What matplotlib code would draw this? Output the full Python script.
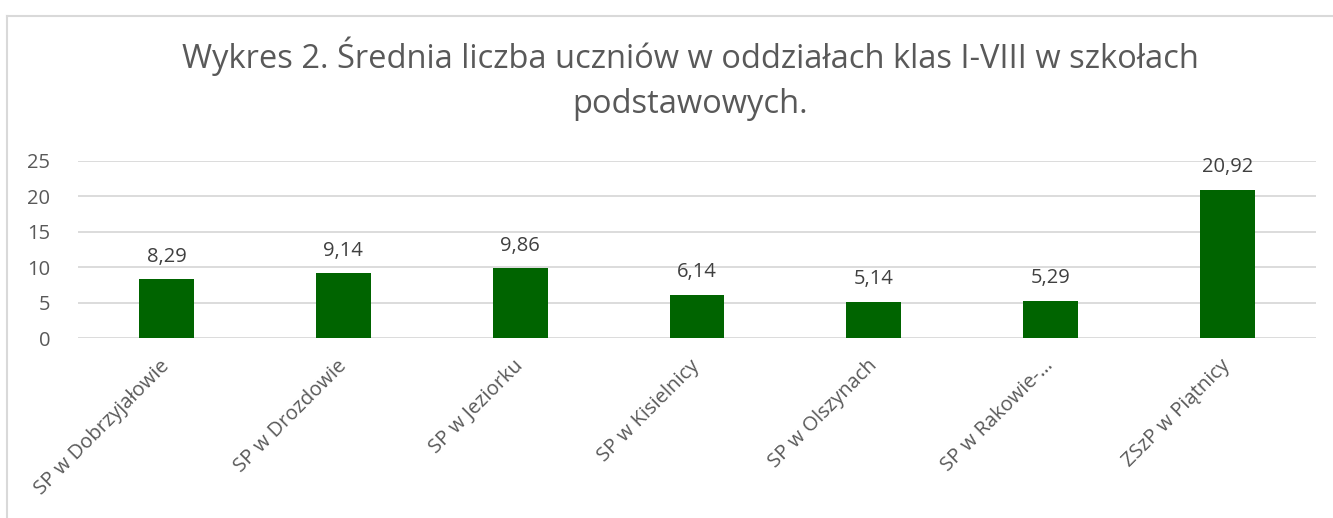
import matplotlib.pyplot as plt
from matplotlib.lines import Line2D

schools = ["SP w Dobrzyjałowie", "SP w Drozdowie", "SP w Jeziorku", "SP w Kisielnicy",
           "SP w Olszynach", "SP w Rakowie-…", "ZSzP w Piątnicy"]
avg_students = [8.29, 9.14, 9.86, 6.14, 5.14, 5.29, 20.92]
value_labels = ["8,29", "9,14", "9,86", "6,14", "5,14", "5,29", "20,92"]
y_ticks = [0, 5, 10, 15, 20, 25]

plt.rcParams['font.family'] = ['Open Sans', 'DejaVu Sans']
TEXT = "#595959"

W, H = 1333, 518
fig = plt.figure(figsize=(W / 100, H / 100), dpi=100)

# plot area in pixel coords
left, right, top, bottom = 78, 1316, 161, 338
ax = fig.add_axes([left / W, 1 - bottom / H, (right - left) / W, (bottom - top) / H])

x = range(len(schools))
ax.bar(x, avg_students, width=0.31, color="#006400", zorder=3)
for xi, v, lab in zip(x, avg_students, value_labels):
    ax.annotate(lab, (xi, v), xytext=(0, 9), textcoords="offset points",
                ha="center", va="bottom", fontsize=14.5, color="#404040")

ax.set_xlim(-0.5, len(schools) - 0.5)
ax.set_ylim(0, 25)
ax.set_yticks(y_ticks)
ax.set_yticklabels([str(t) for t in y_ticks], fontsize=14.5, color=TEXT)
ax.set_xticks(list(x))
ax.set_xticklabels(schools, rotation=45, ha="right", va="center",
                   rotation_mode="anchor", fontsize=14.5, color=TEXT)
ax.tick_params(axis="both", length=0)
ax.tick_params(axis="x", pad=18)
ax.tick_params(axis="y", pad=20)
ax.yaxis.grid(True, color="#d9d9d9", linewidth=1.3, zorder=0)
for s in ax.spines.values():
    s.set_visible(False)

fig.text(690 / W, 1 - 68 / H, "Wykres 2. Średnia liczba uczniów w oddziałach klas I-VIII w szkołach",
         ha="center", va="baseline", fontsize=23.5, color=TEXT)
fig.text(690 / W, 1 - 113 / H, "podstawowych.",
         ha="center", va="baseline", fontsize=23.5, color=TEXT)

# chart border (left and top visible)
fig.add_artist(Line2D([7 / W, 7 / W], [0, 1 - 16 / H], transform=fig.transFigure,
                      color="#d9d9d9", linewidth=1.5))
fig.add_artist(Line2D([7 / W, 1], [1 - 16 / H, 1 - 16 / H], transform=fig.transFigure,
                      color="#d9d9d9", linewidth=1.5))

fig.savefig("out.png", dpi=100)
